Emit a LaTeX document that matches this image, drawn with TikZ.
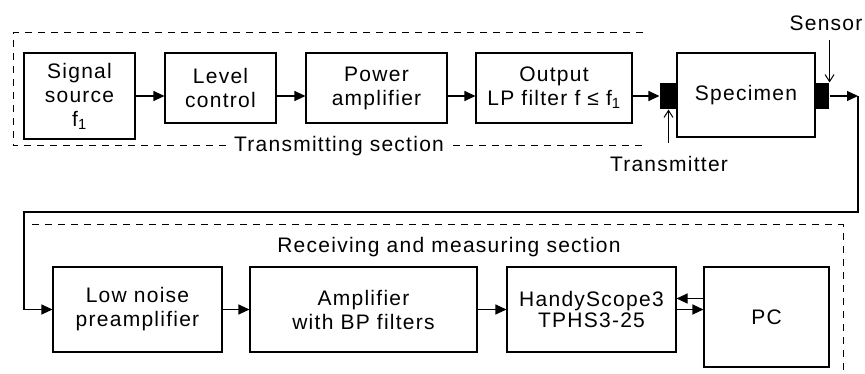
\documentclass[tikz,border=0pt]{standalone}
\usepackage{fontspec}
\setmainfont{Liberation Sans}[LetterSpace=6]
\usetikzlibrary{arrows.meta}

\begin{document}
\begin{tikzpicture}[x=1pt,y=-1pt,line width=1.1pt,
  every node/.style={font=\fontsize{21}{24}\selectfont}]

\tikzstyle{blk}=[rectangle,draw,align=center,inner sep=0pt]
\tikzstyle{pad}=[rectangle,fill=black,minimum width=17pt,minimum height=26pt,inner sep=0pt]
\tikzstyle{arr}=[-{Triangle[length=11pt,width=10pt]}]
\tikzstyle{barb}=[-{Straight Barb[length=7pt,width=9pt]},line width=1pt]
\tikzstyle{sect}=[line width=1pt,dash pattern=on 7pt off 6pt]

\useasboundingbox (0,0) rectangle (865,374);

% transmitting section
\draw[sect] (643,33) -- (13,33) -- (13,146) -- (643,146);
\node[fill=white,inner sep=4pt,anchor=base] (tsec) at (339,152) {Transmitting section};

\node[blk,minimum width=111pt,minimum height=86pt] (src)  at (79.5,96)  {Signal\\source\\f\textsubscript{1}};
\node[blk,minimum width=111pt,minimum height=70pt] (lvl)  at (220.5,88) {Level\\control};
\node[blk,minimum width=141pt,minimum height=70pt] (pwr)  at (376.5,88) {Power\\amplifier};
\node[blk,minimum width=156pt,minimum height=70pt] (lpf)  at (554,88)   {Output\\LP filter f ≤ f\textsubscript{1}};
\node[pad]                                         (tx)   at (668.5,96) {};
\node[blk,minimum width=138pt,minimum height=84pt] (spec) at (746,95)   {Specimen};
\node[pad,minimum width=14pt]                      (sens) at (822,96)   {};

\node[anchor=base]      (txlab)   at (669,172) {Transmitter};
\node[anchor=base east,inner sep=1pt] (senslab) at (864,31)  {Sensor};

\draw[arr] (src.east) -- (src.east -| lvl.west);
\draw[arr] (lvl.east |- src.east) -- (src.east -| pwr.west);
\draw[arr] (pwr.east |- src.east) -- (src.east -| lpf.west);
\draw[arr] (lpf.east |- src.east) -- (tx.west);
\draw[barb,shorten <=10pt] (txlab.north -| tx.south) -- (tx.south);
\draw[barb,shorten <=7pt] (senslab.south -| sens.north east) -- (sens.north east);

% loop back to the receiver
\coordinate (c1) at (858,96);
\coordinate (c2) at (858,212);
\coordinate (c3) at (24,212);

% receiving section
\draw[sect] (32,225) -- (843,225) -- (843,380);
\node[anchor=base] (rsec) at (449,253) {Receiving and measuring section};

\node[blk,minimum width=169pt,minimum height=85pt]  (low)   at (137.5,309.5) {Low noise\\preamplifier};
\node[blk,minimum width=227pt,minimum height=85pt]  (amp)   at (363.5,309.5) {Amplifier\\with BP filters};
\node[blk,minimum width=169pt,minimum height=85pt,
      font=\fontsize{21}{19}\selectfont]             (scope) at (591.5,309.5) {HandyScope3\\TPHS3-25};
\node[blk,minimum width=125pt,minimum height=100pt] (pc)    at (766.5,317)   {PC};

\draw[arr] (sens.east) -- (c1);
\draw[arr] (c1) -- (c2) -- (c3) |- (low.west);
\draw[arr] (low.east) -- (amp.west);
\draw[arr] (amp.east) -- (scope.west);
\draw[arr] ([yshift=11pt]scope.east -| pc.west) -- ([yshift=11pt]scope.east);
\draw[arr] (scope.east) -- (scope.east -| pc.west);

\end{tikzpicture}
\end{document}
